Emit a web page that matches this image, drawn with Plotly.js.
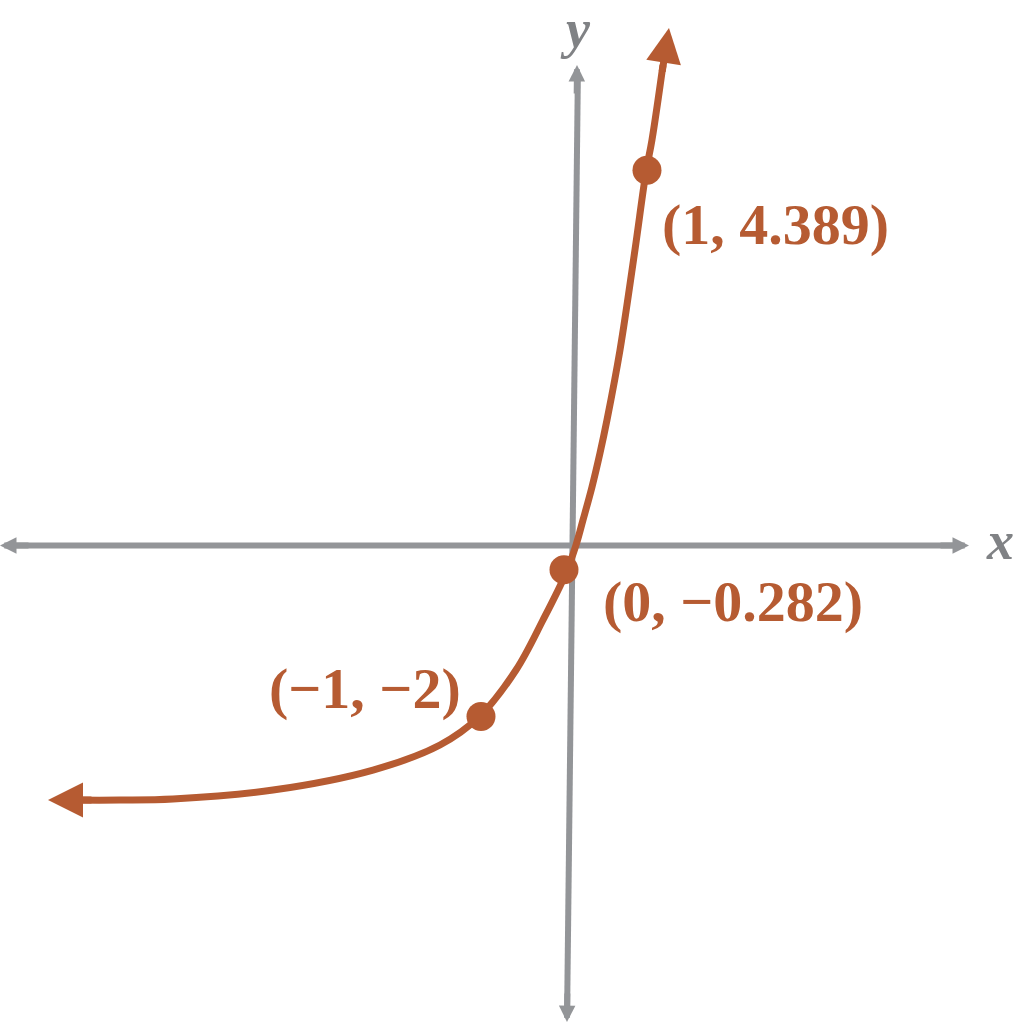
<!DOCTYPE html>
<html><head><meta charset="utf-8">
<script src="https://cdn.plot.ly/plotly-3.0.1.min.js"></script>
<style>html,body{margin:0;padding:0;background:#fff;}#chart{width:1017px;height:1024px;}</style>
</head><body><div id="chart"></div>
<script>
// Curve values
const curveX = [-5.952, -5.349, -4.711, -3.506, -2.301, -1.494, -1.024, -0.578, -0.253, 0.024, 0.145, 0.229, 0.337, 0.434, 0.518, 0.675, 0.855, 0.988, 1.060, 1.193];
const curveY = [-2.977, -2.977, -2.965, -2.860, -2.626, -2.333, -2.006, -1.456, -0.871, -0.322, 0.006, 0.298, 0.684, 1.082, 1.468, 2.287, 3.456, 4.368, 4.743, 5.620];
// Curve arrow tips
const curveTipX = [-6.217, 1.265];
const curveTipY = [-2.977, 6.053];
// Marked points
const pointX = [-1, 0, 1];
const pointY = [-2, -0.282, 4.389];
const pointLabels = ["(−1, −2)", "(0, −0.282)", "(1, 4.389)"];
// Axes extents (tips)
const xAxisEnds = [-6.795, 4.880];
const yAxisTop = [0.157, 5.620];
const yAxisBottom = [0.036, -5.573];
const axisNames = ["x", "y"];

const curveColor = "#b65b32";
const axisColor = "#939598";
const serif = "Liberation Serif, Times New Roman, serif";

const traces = [
  {x: curveX, y: curveY, mode: "lines", line: {color: curveColor, width: 7, shape: "spline", smoothing: 1}, hoverinfo: "skip"},
  {x: pointX, y: pointY, mode: "markers", marker: {color: curveColor, size: 29}, hoverinfo: "skip"}
];

const annotations = [];
const axArrow = {text: "", showarrow: true, arrowhead: 2, arrowsize: 0.55, arrowwidth: 6, arrowcolor: axisColor, standoff: 0};
annotations.push(Object.assign({x: xAxisEnds[1], y: 0, ax: -30, ay: 0}, axArrow));
annotations.push(Object.assign({x: xAxisEnds[0], y: 0, ax: 30, ay: 0}, axArrow));
annotations.push(Object.assign({x: yAxisTop[0], y: yAxisTop[1], ax: -0.35, ay: 30}, axArrow));
annotations.push(Object.assign({x: yAxisBottom[0], y: yAxisBottom[1], ax: 0.35, ay: -30}, axArrow));
// curve arrowheads
const cvArrow = {text: "", showarrow: true, arrowhead: 2, arrowsize: 1.0, arrowwidth: 7, arrowcolor: curveColor, standoff: 0};
annotations.push(Object.assign({x: curveTipX[0], y: curveTipY[0], ax: 45, ay: 0}, cvArrow));
annotations.push(Object.assign({x: curveTipX[1], y: curveTipY[1], ax: -7, ay: 45}, cvArrow));
// axis names
annotations.push({x: 5.253, y: 0.053, text: axisNames[0], showarrow: false, xanchor: "center", yanchor: "middle", font: {family: serif, size: 54, color: "#808285", style: "italic", weight: "bold"}});
annotations.push({x: 0.133, y: 6.04, text: axisNames[1], showarrow: false, xanchor: "center", yanchor: "middle", font: {family: serif, size: 54, color: "#808285", style: "italic", weight: "bold"}});
// point labels
const labelPos = [
  {x: -1.217, y: -1.667, xanchor: "right"},
  {x: 0.440, y: -0.649, xanchor: "left"},
  {x: 1.160, y: 3.749, xanchor: "left"}
];
for (let i = 0; i < pointLabels.length; i++) {
  annotations.push({x: labelPos[i].x, y: labelPos[i].y, text: pointLabels[i], showarrow: false, xanchor: labelPos[i].xanchor, yanchor: "middle", font: {family: serif, size: 58, color: curveColor, weight: "bold"}});
}

const shapes = [
  {type: "line", layer: "below", x0: -6.651, y0: 0, x1: 4.747, y1: 0, line: {color: axisColor, width: 6}},
  {type: "line", layer: "below", x0: 0.167, y0: 5.480, x1: 0.038, y1: -5.433, line: {color: axisColor, width: 6}}
];

const layout = {
  width: 1017, height: 1024,
  margin: {l: 0, r: 0, t: 0, b: 0, pad: 0},
  paper_bgcolor: "#ffffff", plot_bgcolor: "#ffffff",
  showlegend: false,
  xaxis: {range: [-6.795, 5.458], visible: false, showgrid: false, zeroline: false},
  yaxis: {range: [-5.596, 6.380], visible: false, showgrid: false, zeroline: false},
  annotations: annotations,
  shapes: shapes
};
Plotly.newPlot("chart", traces, layout, {staticPlot: true});
</script>
</body></html>
